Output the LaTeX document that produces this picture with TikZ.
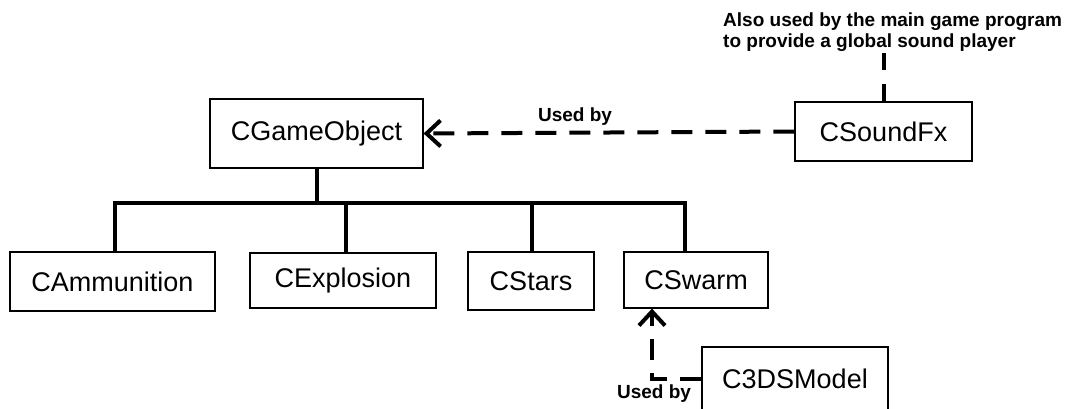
\documentclass[tikz,border=0pt]{standalone}
\usepackage{fontspec}
\setmainfont{Liberation Sans}
\usetikzlibrary{arrows.meta}

\begin{document}
\begin{tikzpicture}[x=1pt,y=-1pt,
  classbox/.style={draw=black, line width=1.2pt, inner sep=0pt, font=\fontsize{27}{30}\selectfont},
  tree/.style={black, line width=4pt},
  usedby/.style={black, line width=4pt, dash pattern=on 21pt off 13pt},
  barb/.style={-{Straight Barb[length=14pt,width=26pt]}},
  note/.style={font=\bfseries\fontsize{19}{21}\selectfont, inner sep=0pt}]
\useasboundingbox (0,0) rectangle (1065,408);
\node [classbox, minimum width=213pt, minimum height=69pt] (game) at (316.5,133.5) {CGameObject};
\node [classbox, minimum width=177pt, minimum height=59pt] (snd) at (883.5,131.5) {CSoundFx};
\node [classbox, minimum width=205pt, minimum height=59pt] (ammo) at (112.5,281.5) {CAmmunition};
\node [classbox, minimum width=186pt, minimum height=55pt] (expl) at (343,280.5) {CExplosion};
\node [classbox, minimum width=126pt, minimum height=58pt] (stars) at (531,281) {CStars};
\node [classbox, minimum width=144pt, minimum height=56pt] (swarm) at (696,280) {CSwarm};
\node [classbox, minimum width=186pt, minimum height=64pt] (model) at (795,379) {C3DSModel};
\node [note, align=left, anchor=north west] (also) at (723,13) {Also used by the main game program\\to provide a global sound player};
\node [note] (used1) at (575,117) {Used by};
\node [note] (used2) at (654,394) {Used by};
\draw [tree] (game.south) -- ++(0,34) coordinate (bus);
\draw [tree] (bus) -| ([xshift=2pt]ammo.north);
\draw [tree] (bus) -| ([xshift=3pt]expl.north);
\draw [tree] (bus) -| ([xshift=1pt]stars.north);
\draw [tree] (bus) -| ([xshift=-11pt]swarm.north);
\draw [usedby, barb] (snd.west) -- (game.east);
\draw [usedby, dash pattern=on 17pt off 14pt] (snd.north) -- (snd.north |- also.south);
\draw [usedby, barb] (model.west) -| ([xshift=-44pt]swarm.south);
\end{tikzpicture}
\end{document}
